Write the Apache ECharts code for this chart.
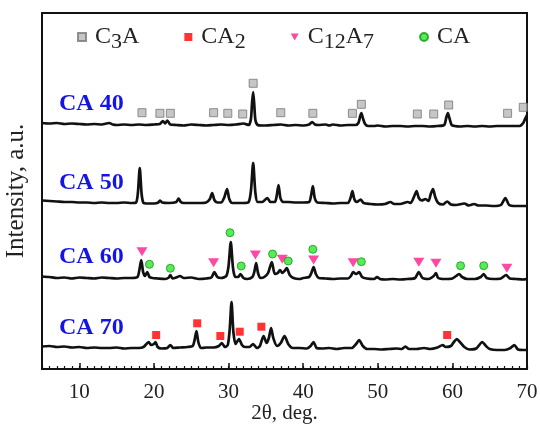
<!DOCTYPE html>
<html>
<head>
<meta charset="utf-8">
<script src="https://cdn.jsdelivr.net/npm/echarts@6/dist/echarts.min.js"></script>
<style>html,body{margin:0;padding:0;background:#fff;}#c{width:540px;height:427px;}</style>
</head>
<body>
<div id="c"></div>
<script>
// ---- data (2θ in degrees, intensity in arbitrary units above each pattern's baseline) ----
const sampleNames = ['CA 40', 'CA 50', 'CA 60', 'CA 70'];
const sampleOffsets = [244, 166, 91, 21];

const ca40 = [[5,2],[6,1.5],[7,2],[8,1],[9,1.5],[10,1],[11,0.5],[12,1],[13,0.5],[14,2],[14.5,0.5],[15,0],[16,0.5],[17,0],[18,0.5],[19,0],[20,0.5],[20.8,1],[21.2,4],[21.5,1.5],[21.8,4.5],[22.2,0.5],[23,0],[24,-0.5],[25,0.5],[26,0],[27,-0.5],[28,0],[29,0.5],[30,0],[31,0.5],[32,1.5],[32.7,0],[33.0,6],[33.15,22],[33.3,33],[33.45,20],[33.6,5],[33.9,0],[34.5,-0.5],[35,-0.5],[36,0],[37,0.5],[38,-0.5],[39,0],[40,-0.5],[40.8,0.5],[41.2,3],[41.6,0.5],[42,0],[43,0.5],[43.5,-0.5],[44,0.5],[45,-0.5],[46,0],[47,0],[47.4,2],[47.65,9],[47.8,12],[48.0,7],[48.3,1],[48.7,-1],[49.5,-1],[50,-0.5],[51,-1.5],[52,-1],[53,-1],[54,-1.5],[55,-1],[56,-1],[57,-1.5],[58,-1],[58.9,0],[59.2,8],[59.4,12],[59.6,7],[59.9,0],[60.3,-1],[61,-1.5],[62,-1],[63,-1.5],[64,-1],[65,-1.5],[66,-1],[67,-1],[68,-1],[69,-1],[69.5,2],[69.8,7],[70,10]];

const ca50 = [[5,2.5],[6,2],[7,1.5],[8,1],[9,1],[10,0.5],[11,0.5],[12,0],[13,0.5],[14,0],[15,0],[16,0.5],[17,0],[17.6,0.5],[17.85,10],[18.1,35],[18.35,9],[18.6,0],[19,-0.5],[20,-0.5],[20.6,0.5],[20.8,2.5],[21.1,0.5],[22,0],[23,1],[23.3,4.5],[23.6,1],[24,0],[25,0],[26,0],[27,0.5],[27.5,4],[27.8,10],[28.1,3],[28.5,0.5],[29,0.5],[29.4,5],[29.8,14],[30.1,4],[30.5,0],[31,0],[32,0],[32.7,1],[33.0,12],[33.3,40],[33.6,10],[33.9,1],[34.5,1],[35.2,5],[35.6,1],[36.2,1],[36.45,7],[36.7,18],[36.95,5],[37.3,1],[38,1],[39,0.5],[40,0.5],[40.8,1],[41.05,7],[41.3,17],[41.55,5],[41.9,0.5],[43,0],[44,-0.5],[45,0],[46,0],[46.35,5],[46.6,12],[46.85,4],[47.2,1],[47.7,3.5],[48.1,0],[49,-1],[50,-1.5],[51,-1],[51.7,1],[52.2,-1],[53,-1],[54,1],[54.4,0],[54.9,7],[55.2,12],[55.5,5],[55.9,2.5],[56.4,4],[56.8,2],[57.1,9],[57.4,14],[57.7,6],[58.1,0],[58.7,-1.5],[59.3,1.5],[59.8,-1.5],[60.5,-2],[61.6,-0.5],[62.2,-2.5],[62.9,-1],[63.5,-2.5],[64.5,-2.5],[65.5,-3],[66.5,-2],[67.1,5],[67.6,-2],[68.5,-3],[69.5,-3],[70,-3]];

const ca60 = [[5,1.5],[6,1],[7,0],[8,0.5],[9,-0.5],[10,0.5],[11,0],[12,-0.5],[13,0.5],[14,0],[15,-0.5],[16,0],[17,0],[17.8,1],[18.05,8],[18.3,18],[18.55,6],[18.8,2],[19.1,6],[19.4,1],[19.8,0],[20.5,-0.5],[21.5,-1],[22.0,0.5],[22.2,3],[22.5,-0.5],[23,0.5],[23.5,2],[24,0],[25,0.5],[26,-1],[27,-0.5],[27.7,0.5],[28.1,6],[28.5,1],[29,0],[29.7,2],[30.0,12],[30.3,36],[30.6,10],[30.9,1],[31.3,1],[31.6,4],[32.0,0],[32.5,-1],[33.2,1],[33.45,6],[33.7,15],[33.95,5],[34.3,0],[34.8,1],[35.3,5],[35.8,16],[36.2,4],[36.6,5],[36.9,8],[37.2,5],[37.5,7],[37.8,10],[38.2,3],[38.7,0],[39.5,-1],[40,0],[40.8,1],[41.1,5],[41.4,11],[41.7,4],[42.1,0],[43,-0.5],[44,-1],[45,-0.5],[46,-0.5],[46.4,2],[46.7,6],[47.1,4],[47.5,6],[47.9,1],[48.5,-0.5],[49.5,-1],[49.9,1],[50.3,-1],[51,-1.5],[52,-1],[53,-1.5],[54,-1],[55,0],[55.5,6],[56,0],[56.8,-1],[57.5,2],[57.8,5],[58.1,0],[59,-1],[60,-0.5],[60.5,2],[60.9,4],[61.3,1],[62,-1],[63,-1],[63.8,1],[64.2,4],[64.6,0],[65.5,-1],[66.5,-0.5],[67.2,3],[67.7,-0.5],[68.5,-1],[69.5,-1.5],[70,-1]];

const ca70 = [[5,1.5],[6,2],[7,1],[8,1.5],[9,0.5],[10,1],[11,0],[12,0.5],[13,0],[14,0],[15,0.5],[16,-0.5],[17,0],[18,0],[18.6,1],[19.0,4],[19.3,6],[19.6,3],[20.0,4],[20.2,6],[20.5,1],[21,-0.5],[21.8,0],[22.2,3],[22.6,0],[23.5,0.5],[24.5,1],[25.2,2],[25.45,8],[25.7,17],[25.95,6],[26.3,0],[27,0.5],[28,0.5],[28.7,2],[29.1,5],[29.5,1],[29.9,3],[30.15,18],[30.4,46],[30.65,16],[30.95,4],[31.4,9],[31.8,3],[32.2,1],[32.8,1],[33.3,4],[33.8,0],[34.2,2],[34.7,12],[35.1,5],[35.4,10],[35.7,20],[36.0,10],[36.5,2],[37.0,5],[37.5,12],[38.0,4],[38.6,0],[39.5,0],[40.5,-0.5],[41.0,2],[41.4,6],[41.8,0],[42.5,-0.5],[43.5,0],[44.5,-1],[45.5,0],[46.5,0],[47.1,4],[47.5,8],[48.0,2],[48.6,-1],[49.5,-1],[50.5,-1.5],[51.5,-1],[52.5,-0.5],[53.2,-1],[53.7,1.5],[54.2,-1],[55.2,-1],[56.2,0],[57,-1],[58,0.5],[58.7,3],[59.1,1],[59.8,2],[60.2,6],[60.6,9],[61.0,6],[61.6,1],[62.3,-1.5],[63.2,-0.5],[64.0,6],[64.5,2],[65.0,-1],[66,-2],[67,-2],[67.8,0],[68.3,3],[68.8,-1.5],[69.5,-2],[70,-2]];

// phase markers: 2θ positions and heights above the owning pattern's baseline
const c3aX  = [18.4, 20.8, 22.2, 28.0, 29.9, 31.9, 33.3, 37.0, 41.3, 46.6, 47.8, 55.3, 57.5, 59.5, 67.4, 69.5];
const c3aH  = [12.3, 11.7, 11.7, 12.3, 11.7, 11, 41.7, 12.3, 11.7, 11.7, 20.7, 11, 11, 20, 11.7, 17.7];
const ca2X  = [20.3, 25.8, 28.9, 31.5, 34.4, 59.3];
const ca2H  = [13, 24.7, 12, 16.3, 21.3, 13];
const c12a7X = [18.4, 28.0, 33.6, 37.2, 41.4, 46.7, 55.5, 57.8, 67.3];
const c12a7H = [26.3, 15.3, 23, 18.7, 18, 15.3, 15.7, 14.7, 9.7];
const caX   = [19.4, 22.2, 30.2, 31.7, 35.9, 38.0, 41.3, 47.8, 61.1, 64.2];
const caH   = [13.7, 9.7, 45.3, 12, 24, 17, 28.7, 16.3, 12.3, 12.3];

const xTickLabels = [10, 20, 30, 40, 50, 60, 70];
const phaseNames = ['C3A', 'CA2', 'C12A7', 'CA'];

// ---- build ----
const SERIF = "'Liberation Serif', 'Times New Roman', serif";
const patterns = [ca40, ca50, ca60, ca70];
const lineSeries = patterns.map((p, i) => ({
  type: 'line', name: sampleNames[i], xAxisIndex: 0, yAxisIndex: 0,
  data: p.map(d => [d[0], d[1] + sampleOffsets[i]]),
  showSymbol: false, symbol: 'none', smooth: 0.25,
  lineStyle: { color: '#111', width: 2.7 }, silent: true, z: 2
}));
const mk = (xs, hs, off) => xs.map((x, i) => [x, hs[i] + off]);
const triPath = 'path://M0,0L10,0L5,8.5Z';
const markerSeries = [
  { type: 'scatter', name: 'C3A', data: mk(c3aX, c3aH, sampleOffsets[0]), symbol: 'rect', symbolSize: 8,
    itemStyle: { color: '#b8b8b8', borderColor: '#777', borderWidth: 1 } },
  { type: 'scatter', name: 'CA2', data: mk(ca2X, ca2H, sampleOffsets[3]), symbol: 'rect', symbolSize: 8,
    itemStyle: { color: '#ff0000' } },
  { type: 'scatter', name: 'C12A7', data: mk(c12a7X, c12a7H, sampleOffsets[2]), symbol: triPath, symbolSize: [11, 9],
    itemStyle: { color: '#ff1a8c' } },
  { type: 'scatter', name: 'CA', data: mk(caX, caH, sampleOffsets[2]), symbol: 'circle', symbolSize: 8,
    itemStyle: { color: '#2ee52e', borderColor: '#139a13', borderWidth: 1 } }
].map(s => Object.assign(s, { xAxisIndex: 0, yAxisIndex: 0, z: 3, silent: true }));

const legendFmt = {
  'C3A': '{n|C}{s|3}{n|A}',
  'CA2': '{n|CA}{s|2}',
  'C12A7': '{n|C}{s|12}{n|A}{s|7}',
  'CA': '{n|CA}'
};

const labelTop = [105, 183.5, 258, 328.5];

const chart = echarts.init(document.getElementById('c'), null, { renderer: 'canvas' });
chart.setOption({
  animation: false,
  backgroundColor: '#fff',
  grid: { left: 42, right: 13, top: 13, bottom: 58, show: true, borderColor: '#111', borderWidth: 2,
          backgroundColor: 'transparent', outerBoundsMode: 'none', containLabel: false },
  legend: {
    data: phaseNames, left: 77, top: 25, padding: 0, itemGap: 45, itemWidth: 8, itemHeight: 8,
    formatter: n => legendFmt[n],
    textStyle: {
      padding: [0, 0, 0, 4],
      rich: {
        n: { fontFamily: SERIF, fontSize: 24, color: '#222' },
        s: { fontFamily: SERIF, fontSize: 22, color: '#222', padding: [11, 0, 0, 0] }
      }
    }
  },
  xAxis: [
    { type: 'value', min: 5, max: 70, position: 'bottom',
      axisLine: { show: false },
      axisTick: { show: true, inside: true, length: 6, customValues: xTickLabels, lineStyle: { color: '#111', width: 1.5 } },
      axisLabel: { show: true, customValues: xTickLabels, fontFamily: SERIF, fontSize: 21, color: '#222', margin: 13 },
      splitLine: { show: false },
      name: '2θ, deg.', nameLocation: 'middle', nameGap: 34, nameMoveOverlap: false,
      nameTextStyle: { fontFamily: SERIF, fontSize: 21, color: '#222' } },
    { type: 'value', min: 5, max: 70, interval: 1, position: 'bottom', gridIndex: 0,
      axisLine: { show: false },
      axisTick: { show: true, inside: true, length: 3, lineStyle: { color: '#111', width: 1.2 } },
      axisLabel: { show: false }, splitLine: { show: false } }
  ],
  yAxis: {
    type: 'value', min: 0, max: 356,
    axisLine: { show: false }, axisTick: { show: false }, axisLabel: { show: false }, splitLine: { show: false },
    name: 'Intensity, a.u.', nameLocation: 'middle', nameGap: 13,
    nameTextStyle: { fontFamily: SERIF, fontSize: 25, color: '#222' }
  },
  graphic: sampleNames.map((t, i) => ({
    type: 'text', left: 59, top: labelTop[i] - 13,
    style: { text: t, font: "bold 24px " + SERIF, fill: '#1414e6' }
  })),
  series: lineSeries.concat(markerSeries)
});
</script>
</body>
</html>
